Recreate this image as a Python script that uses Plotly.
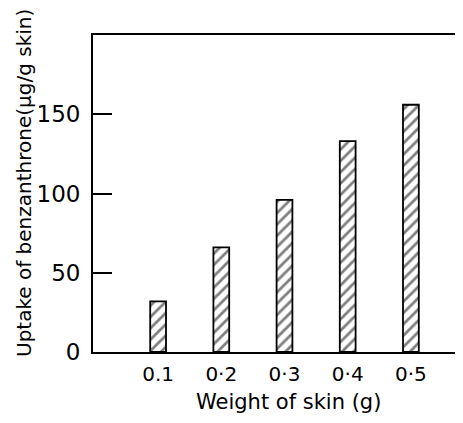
import plotly.graph_objects as go

weights = [0.1, 0.2, 0.3, 0.4, 0.5]
x_labels = ["0.1", "0·2", "0·3", "0·4", "0·5"]
uptake = [32, 66, 96, 133, 156]
y_ticks = [0, 50, 100, 150]

FONT = "DejaVu Sans"
OFF = 8  # default page body margin
W, H = 463, 423 - 2 * OFF
L, T = 93 - OFF, 35 - OFF
B = H - (352 - OFF)
PX_PER_UNIT = 632.0
x0 = -0.003
x1 = x0 + (W - L) / PX_PER_UNIT

fig = go.Figure()
fig.add_trace(go.Bar(
    x=weights, y=uptake, width=0.025,
    marker=dict(
        color="white",
        line=dict(color="black", width=1.8),
        pattern=dict(shape="/", fgcolor="black", bgcolor="white", size=8, solidity=0.35),
    ),
    showlegend=False,
))

pw, ph = W - L, H - T - B
def px_to_paper(px, py):
    return (px - OFF - L) / pw, (H - B - (py - OFF)) / ph

ax, ay = px_to_paper(288, 402)
bx, by = px_to_paper(24, 183)

fig.update_layout(
    width=W, height=H,
    margin=dict(l=L, r=0, t=T, b=B),
    plot_bgcolor="white", paper_bgcolor="white",
    font=dict(family=FONT, color="black"),
    xaxis=dict(
        range=[x0, x1], tickvals=weights, ticktext=x_labels,
        showline=True, linecolor="black", linewidth=1.8, mirror=True,
        showgrid=False, zeroline=False, ticks="",
        tickfont=dict(size=20, family=FONT), ticklabelstandoff=3,
    ),
    yaxis=dict(
        range=[0, 200], tickvals=y_ticks,
        showline=True, linecolor="black", linewidth=1.8, mirror=False,
        showgrid=False, zeroline=False,
        ticks="inside", ticklen=19, tickwidth=1.8, tickcolor="black",
        tickfont=dict(size=23, family=FONT), ticklabelstandoff=6,
    ),
    annotations=[
        dict(text="Weight of skin (g)", x=ax, y=ay, xref="paper", yref="paper",
             xanchor="center", yanchor="middle",
             showarrow=False, font=dict(size=21, family=FONT)),
        dict(text="Uptake of benzanthrone(μg/g skin)", textangle=-90,
             x=bx, y=by, xref="paper", yref="paper",
             xanchor="center", yanchor="middle",
             showarrow=False, font=dict(size=20, family=FONT)),
    ],
)

fig.write_html("out.html")
